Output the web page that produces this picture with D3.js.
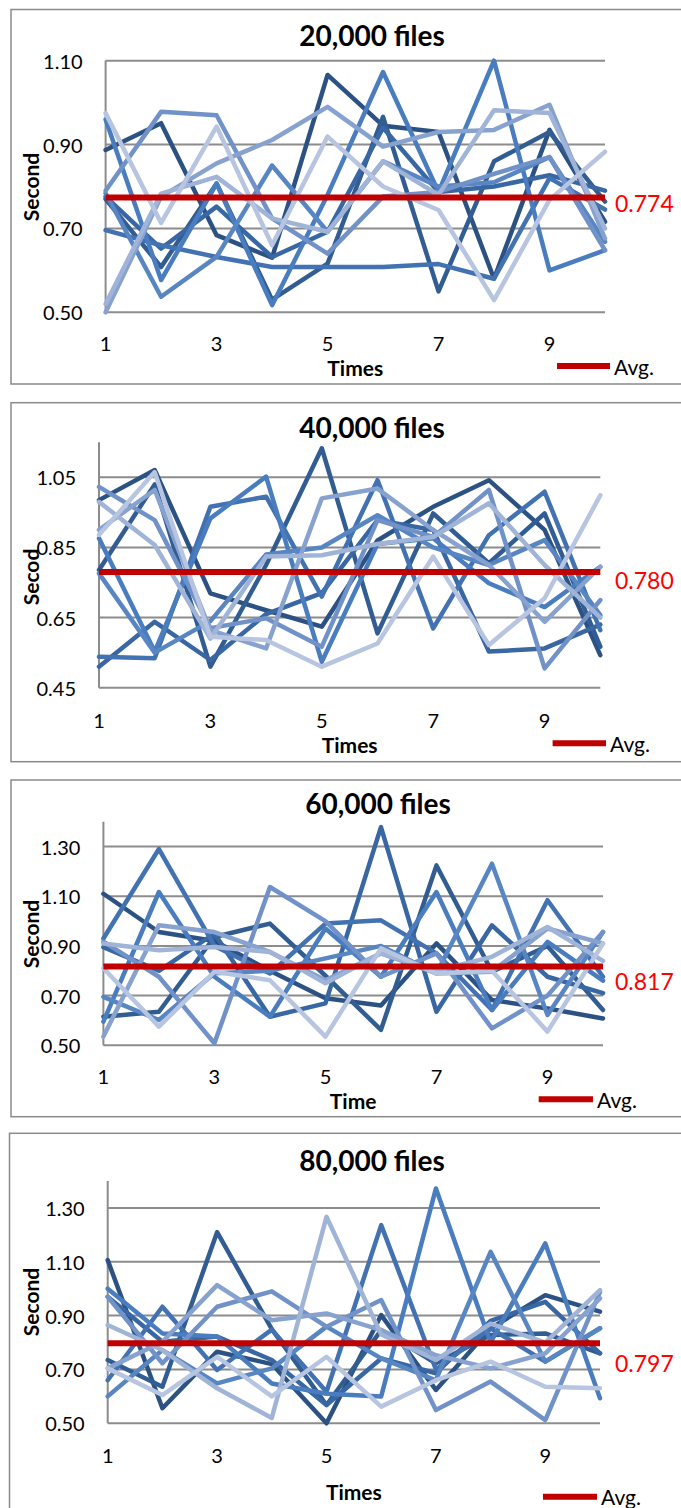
<!DOCTYPE html>
<html>
<head>
<meta charset="utf-8">
<script src="https://cdn.jsdelivr.net/npm/d3@7"></script>
<style>
  html, body { margin: 0; padding: 0; background: #fff; }
  svg text { font-family: Lato, "Open Sans", sans-serif; }
</style>
</head>
<body>
<svg id="chart" width="681" height="1508"></svg>
<script>
// Run numbers on the x axis
const runs = [1, 2, 3, 4, 5, 6, 7, 8, 9, 10];
const runTicks = [1, 3, 5, 7, 9];

// Response times (seconds), ten test series per file count
const times20000 = [
  [0.887, 0.951, 0.684, 0.630, 1.066, 0.945, 0.930, 0.580, 0.935, 0.716],
  [0.770, 0.608, 0.807, 0.530, 0.616, 0.966, 0.550, 0.860, 0.930, 0.764],
  [0.776, 0.652, 0.752, 0.632, 0.692, 0.940, 0.787, 0.800, 0.827, 0.790],
  [0.696, 0.660, 0.632, 0.608, 0.608, 0.608, 0.615, 0.580, 0.820, 0.745],
  [0.960, 0.577, 0.807, 0.517, 0.780, 1.073, 0.787, 1.100, 0.600, 0.648],
  [0.784, 0.537, 0.632, 0.850, 0.692, 0.860, 0.800, 0.810, 0.870, 0.668],
  [0.790, 0.978, 0.970, 0.724, 0.640, 0.776, 0.787, 0.830, 0.870, 0.648],
  [0.500, 0.776, 0.855, 0.911, 0.990, 0.895, 0.930, 0.935, 0.995, 0.676],
  [0.520, 0.783, 0.823, 0.724, 0.692, 0.860, 0.780, 0.982, 0.975, 0.700],
  [0.975, 0.713, 0.943, 0.660, 0.919, 0.800, 0.744, 0.529, 0.768, 0.883]
];
const times40000 = [
  [0.985, 1.071, 0.719, 0.671, 0.624, 0.870, 0.966, 1.042, 0.900, 0.543],
  [0.786, 1.030, 0.510, 0.800, 1.133, 0.605, 0.947, 0.805, 0.947, 0.567],
  [0.510, 0.638, 0.529, 0.660, 0.720, 0.928, 0.900, 0.553, 0.562, 0.630],
  [0.538, 0.534, 0.966, 0.995, 0.710, 1.042, 0.619, 0.885, 1.009, 0.614],
  [0.876, 0.553, 0.933, 1.052, 0.524, 0.860, 0.876, 0.748, 0.680, 0.795],
  [0.776, 0.550, 0.640, 0.830, 0.850, 0.942, 0.850, 0.800, 0.871, 0.657],
  [1.023, 0.928, 0.620, 0.648, 0.567, 0.928, 0.880, 1.014, 0.505, 0.700],
  [0.900, 1.014, 0.614, 0.562, 0.990, 1.018, 0.900, 0.800, 0.638, 0.795],
  [0.980, 0.857, 0.590, 0.824, 0.828, 0.860, 0.880, 0.976, 0.800, 0.650],
  [0.886, 1.065, 0.595, 0.586, 0.510, 0.576, 0.824, 0.572, 0.705, 0.999]
];
const times60000 = [
  [1.110, 0.956, 0.920, 0.800, 0.689, 0.660, 0.910, 0.682, 0.648, 0.608],
  [0.615, 0.635, 0.936, 0.990, 0.780, 0.562, 1.224, 0.796, 0.900, 0.642],
  [0.895, 0.800, 0.950, 0.615, 0.669, 1.378, 0.635, 0.983, 0.776, 0.710],
  [0.930, 1.290, 0.900, 0.789, 0.990, 1.003, 0.870, 0.642, 1.084, 0.776],
  [0.595, 1.117, 0.776, 0.615, 0.970, 0.776, 1.117, 0.642, 0.916, 0.760],
  [0.695, 0.602, 0.790, 0.800, 0.850, 0.900, 0.789, 1.231, 0.622, 0.956],
  [0.917, 0.776, 0.508, 1.137, 1.000, 0.776, 0.870, 0.568, 0.700, 0.956],
  [0.535, 0.983, 0.956, 0.876, 0.762, 0.870, 0.789, 0.796, 0.970, 0.910],
  [0.910, 0.883, 0.896, 0.876, 0.750, 0.870, 0.800, 0.856, 0.976, 0.840],
  [0.810, 0.575, 0.796, 0.762, 0.535, 0.890, 0.789, 0.800, 0.555, 0.910]
];
const times80000 = [
  [1.106, 0.556, 0.766, 0.720, 0.500, 0.902, 0.624, 0.853, 0.976, 0.915],
  [0.735, 0.636, 1.210, 0.850, 0.568, 0.846, 0.723, 0.828, 0.834, 0.760],
  [0.970, 0.803, 0.822, 0.735, 0.568, 0.741, 0.686, 0.880, 0.951, 0.760],
  [0.660, 0.933, 0.698, 0.848, 0.617, 1.236, 0.700, 0.853, 0.729, 0.853],
  [1.000, 0.834, 0.822, 0.648, 0.610, 0.600, 1.372, 0.800, 1.168, 0.593],
  [0.600, 0.772, 0.648, 0.704, 0.859, 0.741, 0.660, 1.137, 0.729, 0.853],
  [0.970, 0.723, 0.933, 0.990, 0.859, 0.958, 0.549, 0.655, 0.512, 0.988],
  [0.704, 0.803, 1.013, 0.883, 0.908, 0.846, 0.753, 0.704, 0.760, 0.964],
  [0.865, 0.772, 0.630, 0.520, 1.267, 0.830, 0.735, 0.870, 0.800, 0.995],
  [0.704, 0.605, 0.747, 0.600, 0.747, 0.562, 0.660, 0.729, 0.636, 0.630]
];

// Average response time per file count
const averages = [0.774, 0.780, 0.817, 0.797];
const titles = ["20,000 files", "40,000 files", "60,000 files", "80,000 files"];
const yTitles = ["Second", "Secod", "Second", "Second"];
const xTitles = ["Times", "Times", "Time", "Times"];
const yDomains = [[0.5, 1.1], [0.45, 1.15], [0.5, 1.4], [0.5, 1.4]];
const yTicks = [
  [0.50, 0.70, 0.90, 1.10],
  [0.45, 0.65, 0.85, 1.05],
  [0.50, 0.70, 0.90, 1.10, 1.30],
  [0.50, 0.70, 0.90, 1.10, 1.30]
];
const legendLabel = "Avg.";

// Monochrome blue shades, dark to light
const seriesColors = ["#2C5284", "#325D93", "#3967A3", "#4272B2", "#497DBF",
                      "#5886C3", "#7092C8", "#88A2D0", "#A0B4D8", "#B7C5E0"];

// Layout of each panel
const panels = [
  { data: times20000, box: [11, 9.5, 690, 384], x: [105.6, 605], y: [312.3, 60.7],
    titleX: 372, titleY: 35, tickY: 343, xTitleY: 367, legY: 366, legX: [557, 610],
    avgLabelY: 203, yTitleY: 187 },
  { data: times40000, box: [11, 402.7, 690, 761.7], x: [99, 600.3], y: [687.7, 442.3],
    titleX: 372, titleY: 426.7, tickY: 720, xTitleY: 744, legY: 743.3, legX: [552.6, 606],
    avgLabelY: 580, yTitleY: 577 },
  { data: times60000, box: [11, 780, 690, 1116.7], x: [103.4, 603], y: [1045.3, 821.7],
    titleX: 378, titleY: 803.3, tickY: 1076, xTitleY: 1100, legY: 1099.3, legX: [538.7, 593],
    avgLabelY: 980.7, yTitleY: 934 },
  { data: times80000, box: [9.5, 1133.3, 690, 1530], x: [107.7, 600], y: [1423.3, 1181],
    titleX: 372, titleY: 1160, tickY: 1455, xTitleY: 1491.7, legY: 1496.7, legX: [543, 597],
    avgLabelY: 1362.7, yTitleY: 1302 }
];

const svg = d3.select("#chart");

panels.forEach((p, i) => {
  const g = svg.append("g");
  const x = d3.scaleLinear().domain([1, 10]).range(p.x);
  const y = d3.scaleLinear().domain(yDomains[i]).range(p.y);

  // panel frame
  g.append("rect")
    .attr("x", p.box[0]).attr("y", p.box[1])
    .attr("width", p.box[2] - p.box[0]).attr("height", p.box[3] - p.box[1])
    .attr("fill", "none").attr("stroke", "#8a8a8a").attr("stroke-width", 1.5);

  // title
  g.append("text")
    .attr("x", p.titleX).attr("y", p.titleY)
    .attr("text-anchor", "middle").attr("dominant-baseline", "central")
    .attr("font-size", 28).attr("font-weight", "bold").attr("fill", "#000")
    .text(titles[i]);

  // horizontal gridlines
  g.append("g").selectAll("line").data(yTicks[i]).join("line")
    .attr("x1", p.x[0]).attr("x2", p.x[1])
    .attr("y1", d => y(d)).attr("y2", d => y(d))
    .attr("stroke", "#8c8c8c").attr("stroke-width", 2);

  // value axis line
  g.append("line")
    .attr("x1", p.x[0]).attr("x2", p.x[0])
    .attr("y1", y(yDomains[i][1])).attr("y2", y(yDomains[i][0]))
    .attr("stroke", "#8c8c8c").attr("stroke-width", 2);

  // y tick labels
  g.append("g").selectAll("text").data(yTicks[i]).join("text")
    .attr("x", p.x[0] - 23).attr("y", d => y(d))
    .attr("text-anchor", "end").attr("dominant-baseline", "central")
    .attr("font-size", 20).attr("fill", "#000")
    .text(d => d3.format(".2f")(d));

  // x tick labels
  g.append("g").selectAll("text").data(runTicks).join("text")
    .attr("x", d => x(d)).attr("y", p.tickY)
    .attr("text-anchor", "middle").attr("dominant-baseline", "central")
    .attr("font-size", 20).attr("fill", "#000")
    .text(d => d);

  // axis titles
  g.append("text")
    .attr("x", (p.x[0] + p.x[1]) / 2).attr("y", p.xTitleY)
    .attr("text-anchor", "middle").attr("dominant-baseline", "central")
    .attr("font-size", 21).attr("font-weight", "bold").attr("fill", "#000")
    .text(xTitles[i]);
  g.append("text")
    .attr("transform", `translate(30,${p.yTitleY}) rotate(-90)`)
    .attr("text-anchor", "middle").attr("dominant-baseline", "central")
    .attr("font-size", 21).attr("font-weight", "bold").attr("fill", "#000")
    .text(yTitles[i]);

  // the ten series
  const line = d3.line().x((d, k) => x(runs[k])).y(d => y(d));
  g.append("g").selectAll("path").data(p.data).join("path")
    .attr("d", line)
    .attr("fill", "none")
    .attr("stroke", (d, k) => seriesColors[k])
    .attr("stroke-width", 4.5)
    .attr("stroke-linejoin", "round")
    .attr("stroke-linecap", "round");

  // average line
  g.append("line")
    .attr("x1", x(1)).attr("x2", x(10))
    .attr("y1", y(averages[i])).attr("y2", y(averages[i]))
    .attr("stroke", "#C00000").attr("stroke-width", 6);

  g.append("text")
    .attr("x", 615).attr("y", p.avgLabelY)
    .attr("dominant-baseline", "central")
    .attr("font-size", 23).attr("fill", "#FF0000")
    .text(d3.format(".3f")(averages[i]));

  // legend
  g.append("line")
    .attr("x1", p.legX[0]).attr("x2", p.legX[1])
    .attr("y1", p.legY).attr("y2", p.legY)
    .attr("stroke", "#C00000").attr("stroke-width", 6);
  g.append("text")
    .attr("x", p.legX[1] + 4).attr("y", p.legY)
    .attr("dominant-baseline", "central")
    .attr("font-size", 21).attr("fill", "#000")
    .text(legendLabel);
});
</script>
</body>
</html>
